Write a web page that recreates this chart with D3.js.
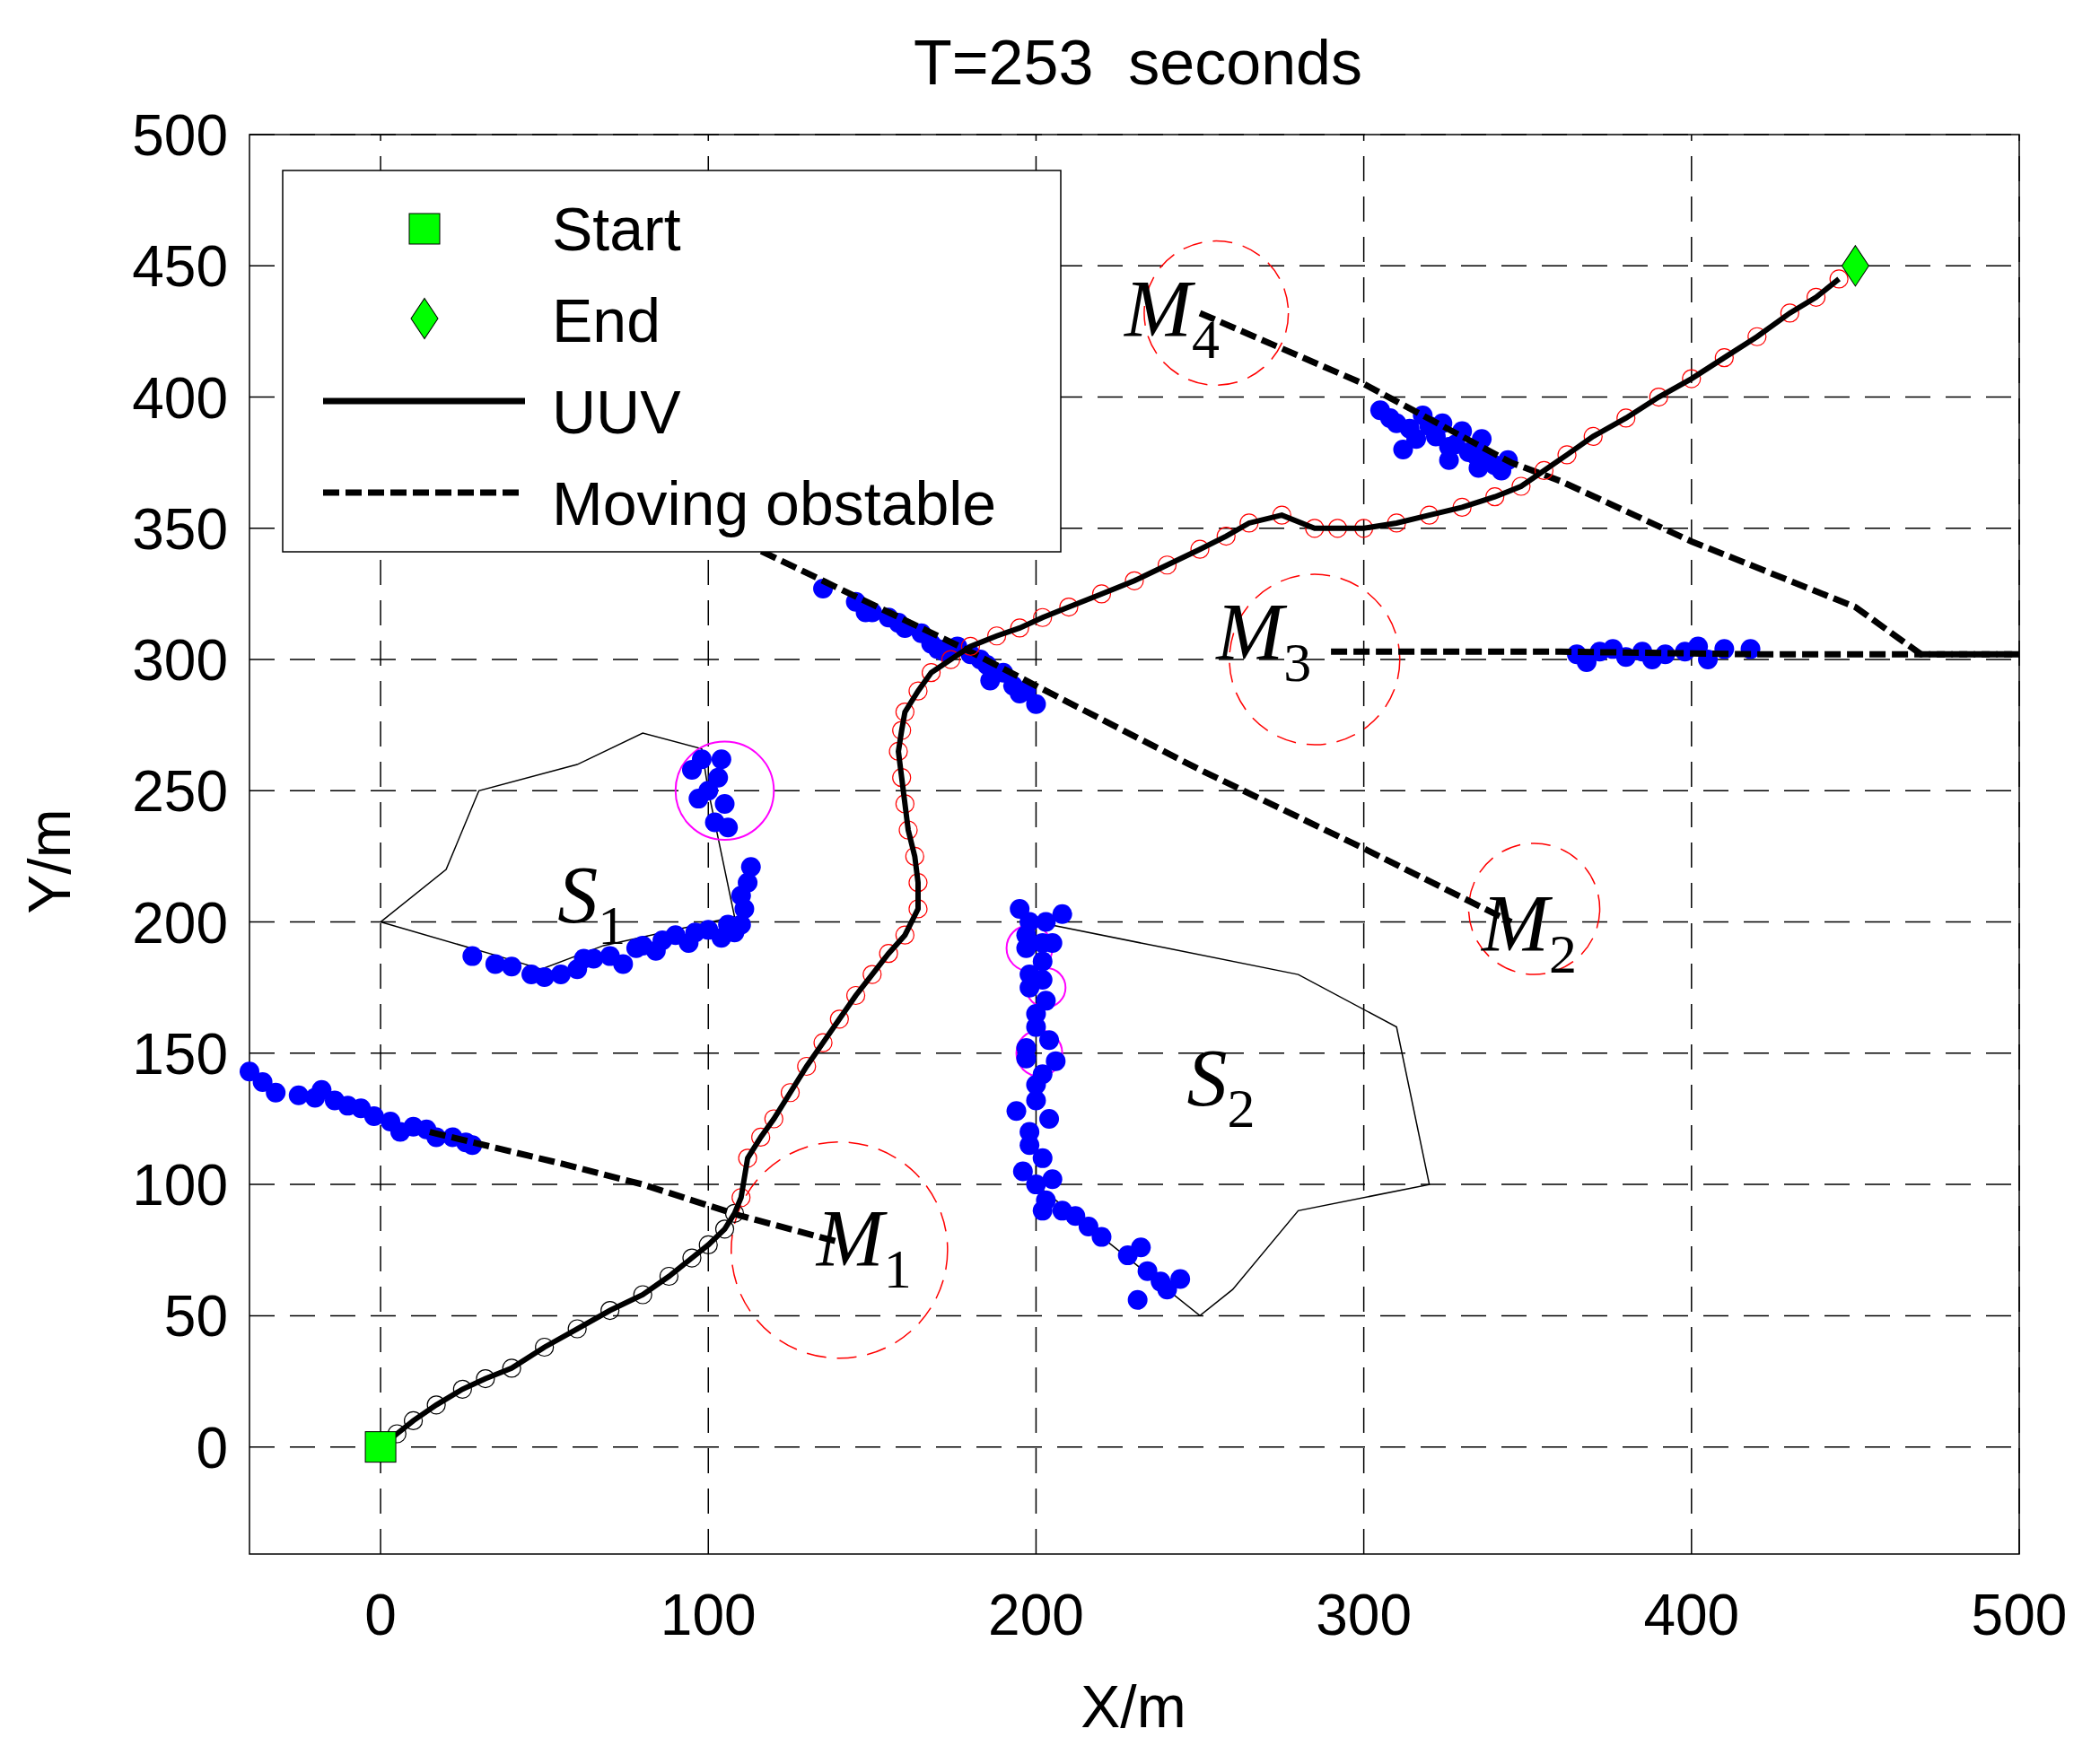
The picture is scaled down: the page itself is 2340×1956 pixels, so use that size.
<!DOCTYPE html>
<html><head><meta charset="utf-8">
<script src="https://cdn.jsdelivr.net/npm/d3@7"></script>
<style>body{margin:0;background:#fff}</style>
</head><body>
<div id="chart"></div>
<script>
const xTicks = [0, 100, 200, 300, 400, 500]
const yTicks = [0, 50, 100, 150, 200, 250, 300, 350, 400, 450, 500]

const uuvPath = [[0,0],[5,5],[10,10],[17,16],[25,22],[32,26],[40,30],[50,38],[60,45],[70,52],[80,58],[88,65],[95,72],[100,77],[105,83],[108,89],[110,95],[112,110],[116,118],[120,125],[125,135],[130,145],[135,154],[140,163],[145,172],[150,180],[155,188],[160,195],[164,205],[164,215],[163,225],[161,235],[160,245],[159,255],[158,265],[159,273],[160,280],[164,288],[168,295],[174,300],[180,305],[188,309],[195,312],[202,316],[210,320],[220,325],[230,330],[240,336],[250,342],[258,347],[265,352],[275,355],[285,350],[292,350],[300,350],[310,352],[320,355],[330,358],[340,362],[348,366],[355,372],[362,378],[370,385],[380,392],[390,400],[400,407],[410,415],[420,423],[430,432],[438,438],[445,445]]

const obstacleM1 = [[15,120],[55,108],[80,100],[100,92],[110,88],[140,78]]
const obstacleM2 = [[110,345],[180,303],[200,290],[250,258],[300,228],[345,200]]
const obstacleM3 = [[290,303],[360,303],[420,302],[500,302]]
const obstacleM4 = [[250,432],[300,405],[345,375],[360,368],[400,345],[450,320],[470,302],[500,302]]

const staticS1 = [[0,200],[20,220],[30,250],[60,260],[80,272],[98,266],[100,250],[108,202],[68,191],[49,182],[36,187],[0,200]]
const staticS2 = [[200,200],[240,190],[280,180],[310,160],[320,100],[280,90],[260,60],[250,50],[200,100],[200,200]]

const dotsM1 = [[-40,143],[-36,139],[-32,135],[-25,134],[-20,133],[-18,136],[-14,132],[-10,130],[-6,129],[-2,126],[3,124],[6,120],[10,122],[14,121],[17,118],[22,118],[26,116],[28,115]]
const dotsM2 = [[135,327],[145,322],[148,318],[150,318],[155,316],[158,314],[160,312],[165,310],[168,306],[170,304],[172,303],[176,305],[180,302],[183,300],[185,298],[186,292],[190,295],[193,290],[195,287],[197,288],[200,283]]
const dotsM3 = [[365,302],[368,299],[372,303],[376,304],[380,301],[385,303],[388,300],[392,302],[398,303],[402,305],[405,300],[410,304],[418,304]]
const dotsM4 = [[305,395],[308,392],[310,390],[314,388],[316,384],[318,393],[320,389],[322,385],[324,390],[326,381],[328,382],[330,387],[332,379],[334,378],[336,384],[338,376],[340,374],[342,372],[344,376],[312,380],[326,376],[335,373]]
const dotsS1 = [[28,187],[35,184],[40,183],[46,180],[50,179],[55,180],[60,182],[62,186],[65,186],[70,187],[74,184],[78,190],[80,191],[84,189],[86,193],[90,195],[94,192],[96,196],[100,197],[104,194],[106,199],[108,196],[110,199],[111,205],[110,210],[112,215],[113,221],[95,258],[98,262],[104,262],[97,247],[100,250],[105,245],[102,238],[106,236],[103,255]]
const dotsS2 = [[195,205],[198,200],[203,200],[208,203],[197,195],[202,192],[197,190],[202,185],[205,192],[198,180],[202,178],[198,175],[203,170],[200,165],[200,160],[204,155],[197,152],[197,148],[202,142],[206,147],[200,138],[194,128],[200,132],[204,125],[198,120],[198,115],[202,110],[196,105],[200,100],[205,102],[203,94],[202,90],[208,90],[212,88],[216,84],[220,80],[228,73],[232,76],[234,67],[238,63],[240,60],[244,64],[231,56]]

const labels = [
  {name:'M', sub:'1', x:133, y:69}, {name:'M', sub:'2', x:336, y:189},
  {name:'M', sub:'3', x:255, y:300}, {name:'M', sub:'4', x:227, y:423},
  {name:'S', sub:'1', x:54, y:200}, {name:'S', sub:'2', x:246, y:130}
]
const dangerCircles = [[140,75,33],[352,205,20],[285,300,26],[255,432,22]]
const magentaCircles = [[105,250,15],[198,190,7],[203,175,6],[201,150,7]]

const W = 2340, H = 1956
const x = d3.scaleLinear().domain([-40, 500]).range([278, 2250])
const y = d3.scaleLinear().domain([-40.8, 500]).range([1732, 150])

const svg = d3.select('#chart').append('svg').attr('width', W).attr('height', H)
  .style('font-family', 'Liberation Sans, Arial, sans-serif')

// grid
svg.append('g').selectAll('line').data(xTicks).join('line')
  .attr('x1', d => x(d)).attr('x2', d => x(d)).attr('y1', y(-40.8)).attr('y2', y(500))
  .attr('stroke', '#000').attr('stroke-width', 1.5).attr('stroke-dasharray', '28,17')
svg.append('g').selectAll('line').data(yTicks).join('line')
  .attr('y1', d => y(d)).attr('y2', d => y(d)).attr('x1', x(-40)).attr('x2', x(500))
  .attr('stroke', '#000').attr('stroke-width', 1.5).attr('stroke-dasharray', '28,17')

svg.append('rect').attr('x', x(-40)).attr('y', y(500)).attr('width', x(500) - x(-40)).attr('height', y(-40.8) - y(500))
  .attr('fill', 'none').attr('stroke', '#000').attr('stroke-width', 1.5)

const line = d3.line().x(d => x(d[0])).y(d => y(d[1]))

// static obstacles
;[staticS1, staticS2].forEach(p => svg.append('path').attr('d', line(p)).attr('fill', 'none').attr('stroke', '#000').attr('stroke-width', 1.5))

// danger circles
dangerCircles.forEach(c => svg.append('circle').attr('cx', x(c[0])).attr('cy', y(c[1])).attr('r', x(c[2]) - x(0))
  .attr('fill', 'none').attr('stroke', '#f00').attr('stroke-width', 1.5).attr('stroke-dasharray', '22,12'))
magentaCircles.forEach(c => svg.append('circle').attr('cx', x(c[0])).attr('cy', y(c[1])).attr('r', x(c[2]) - x(0))
  .attr('fill', 'none').attr('stroke', '#f0f').attr('stroke-width', 2))

// blue obstacle trails
;[dotsM1, dotsM2, dotsM3, dotsM4, dotsS1, dotsS2].forEach(ds => svg.append('g').selectAll('circle').data(ds).join('circle')
  .attr('cx', d => x(d[0])).attr('cy', d => y(d[1])).attr('r', 11).attr('fill', '#0000ff'))

// moving obstacle tracks
;[obstacleM1, obstacleM2, obstacleM3, obstacleM4].forEach(p => svg.append('path').attr('d', line(p)).attr('fill', 'none')
  .attr('stroke', '#000').attr('stroke-width', 7).attr('stroke-dasharray', '18,7'))

// small safety circles along UUV path
svg.append('g').selectAll('circle').data(uuvPath).join('circle')
  .attr('cx', d => x(d[0])).attr('cy', d => y(d[1])).attr('r', 10).attr('fill', 'none')
  .attr('stroke', d => d[1] < 95 ? '#000' : '#f00').attr('stroke-width', 1.2)

svg.append('path').attr('d', line(uuvPath)).attr('fill', 'none').attr('stroke', '#000').attr('stroke-width', 6)

// start / end
svg.append('rect').attr('x', x(0) - 17).attr('y', y(0) - 17).attr('width', 34).attr('height', 34)
  .attr('fill', '#00ff00').attr('stroke', '#000').attr('stroke-width', 1)
svg.append('path').attr('d', d3.symbol(d3.symbolDiamond2, 900)()).attr('transform', `translate(${x(450)},${y(450)}) scale(0.8,1.2)`)
  .attr('fill', '#00ff00').attr('stroke', '#000').attr('stroke-width', 1)

// labels
labels.forEach(l => {
  const t = svg.append('text').attr('x', x(l.x)).attr('y', y(l.y)).attr('font-family', 'Liberation Serif, Times New Roman, serif')
  t.append('tspan').attr('font-style', 'italic').attr('font-size', 90).text(l.name)
  t.append('tspan').attr('font-size', 62).attr('dy', 24).text(l.sub)
})

// axes tick labels
svg.append('g').selectAll('text').data(xTicks).join('text')
  .attr('x', d => x(d)).attr('y', 1822).attr('text-anchor', 'middle').attr('font-size', 64).text(d => d)
svg.append('g').selectAll('text').data(yTicks).join('text')
  .attr('x', 254).attr('y', d => y(d) + 23).attr('text-anchor', 'end').attr('font-size', 64).text(d => d)

svg.append('text').attr('x', 1263).attr('y', 1925).attr('text-anchor', 'middle').attr('font-size', 66).text('X/m')
svg.append('text').attr('transform', 'translate(78,960) rotate(-90)').attr('text-anchor', 'middle').attr('font-size', 66).text('Y/m')
svg.append('text').attr('x', 1268).attr('y', 94).attr('text-anchor', 'middle').attr('font-size', 70).attr('xml:space', 'preserve').text('T=253  seconds')

// legend
const lg = svg.append('g')
lg.append('rect').attr('x', 315).attr('y', 190).attr('width', 867).attr('height', 425).attr('fill', '#fff').attr('stroke', '#000').attr('stroke-width', 1.5)
lg.append('rect').attr('x', 456).attr('y', 238).attr('width', 34).attr('height', 34).attr('fill', '#00ff00').attr('stroke', '#000')
lg.append('path').attr('d', d3.symbol(d3.symbolDiamond2, 900)()).attr('transform', 'translate(473,355) scale(0.8,1.2)').attr('fill', '#00ff00').attr('stroke', '#000')
lg.append('line').attr('x1', 360).attr('x2', 585).attr('y1', 447).attr('y2', 447).attr('stroke', '#000').attr('stroke-width', 7)
lg.append('line').attr('x1', 360).attr('x2', 585).attr('y1', 549).attr('y2', 549).attr('stroke', '#000').attr('stroke-width', 7).attr('stroke-dasharray', '18,7')
;['Start', 'End', 'UUV', 'Moving obstable'].forEach((s, i) => lg.append('text').attr('x', 615).attr('y', 279 + i * 102).attr('font-size', 68).text(s))
</script>
</body></html>
